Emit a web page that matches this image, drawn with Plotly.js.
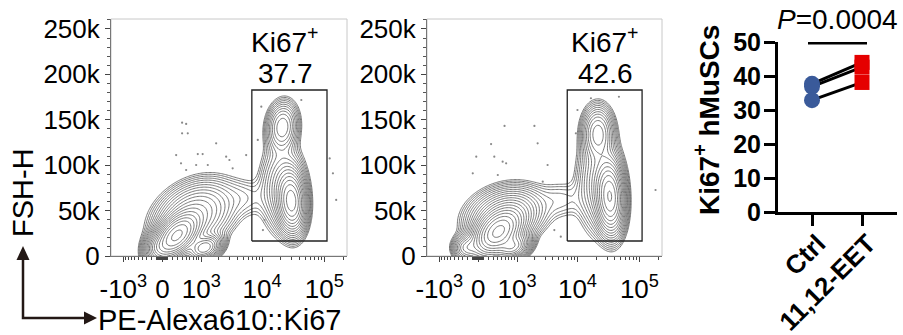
<!DOCTYPE html>
<html><head><meta charset="utf-8">
<script src="https://cdn.plot.ly/plotly-3.0.1.min.js"></script>
<style>html,body{margin:0;padding:0;background:#fff}#chart{width:903px;height:335px}</style>
</head><body><div id="chart"></div>
<script>
// ---------- axis tick definitions ----------
const BIEX_W = 500;                       // width of linear region of biexponential display
function biex(v) { return Math.asinh(v / BIEX_W); }
const xTickRaw  = [-1000, 0, 1000, 10000, 100000];
const xTickText = ['-10<sup>3</sup>', '0', '10<sup>3</sup>', '10<sup>4</sup>', '10<sup>5</sup>'];
const xMinorRaw = [-900,-800,-700,-600,-500,-400,-300,-200,-100,-90,-80,-70,-60,-50,-40,-30,-20,-10,
                   10,20,30,40,50,60,70,80,90,100,200,300,400,500,600,700,800,900,
                   2000,3000,4000,5000,6000,7000,8000,9000,20000,30000,40000,50000,60000,70000,80000,90000,200000];
const yTickVals = [0, 50, 100, 150, 200, 250];          // FSC-H, thousands
const yTickText = ['0', '50k', '100k', '150k', '200k', '250k'];

// ---------- flow density estimates (x: biex display units, y: FSC-H in k) ----------
// components: neg core, neg halo, neg low-right, neg low-left, bridge, pos low, pos upper, pos broad
const ctrlCx  = [0.52, 1.19, 1.56, -0.15, 3.04, 4.78, 4.44, 4.45];
const ctrlCy  = [22,   45,   9,    9,     64,   60,   142,  75];
const ctrlSx  = [0.42, 0.71, 0.30, 0.25,  0.50, 0.26, 0.29, 0.42];
const ctrlSy  = [12.6, 18,   7,    7,     12,   17,   14,   25];
const ctrlRho = [0.50, 0.30, 0.30, 0.0,   0.0,  -0.1, 0.1,  0.0];
const ctrlW   = [1.0,  0.15, 0.30, 0.10,  0.012,0.35, 0.10, 0.06];

const eetCx  = [0.74, 1.04, 1.30, -0.44, 3.10, 4.90, 4.45, 4.50];
const eetCy  = [26,   45,   10,   9,     62,   65,   135,  80];
const eetSx  = [0.45, 0.69, 0.30, 0.25,  0.50, 0.26, 0.29, 0.42];
const eetSy  = [13,   15,   7,    7,     12,   20,   15,   28];
const eetRho = [0.40, 0.20, 0.30, 0.0,   0.0,  -0.1, 0.0,  0.0];
const eetW   = [1.0,  0.15, 0.35, 0.10,  0.012,0.40, 0.12, 0.06];

// sparse outlier events
const ctrlDotX = [0.73,0.88,0.73,0.94,1.99,0.51,1.31,1.49,0.69,0.88,1.25,1.68,2.36,2.48,3.10,2.60,3.66,3.53,3.78,3.78,3.72,5.14,6.19,6.31,6.43];
const ctrlDotY = [146.8,145.4,135.1,135.1,124.1,111.2,112.3,112.3,102.1,94.7,100.2,100.2,109.4,105.7,111.2,96.6,164.4,127.8,138.8,39.6,28.6,171.8,107.5,91.1,61.7];
const eetDotX = [0.98,2.09,0.48,2.21,-0.07,0.60,0.91,1.04,2.58,-0.20,0.73,2.40,3.63,3.69,5.23,4.19,2.83,3.07,6.59];
const eetDotY = [143.2,143.2,123.3,124.1,109.4,109.4,103.9,102.1,100.2,91.1,89.2,81.8,135.1,160.8,175.4,173.7,28.6,21.3,72.7];

// Ki67+ gate (display units)
const gateX = [3.31, 6.09];
const gateY = [16.5, 182.8];
const ctrlPct = '37.7';
const eetPct = '42.6';

// ---------- paired summary ----------
const groups  = ['Ctrl', '11,12-EET'];
const ctrlVals = [37.7, 36.9, 32.9];
const eetVals  = [44.0, 42.6, 38.1];
const pText = '0.0004';
const yTicks3 = [0, 10, 20, 30, 40, 50];

// ---------- build ----------
const X_RANGE = [-1.9, 6.83];
const Y_RANGE = [0, 261];
const NX = 180, NY = 160;
const gx = [], gy = [];
for (let i = 0; i < NX; i++) gx.push(X_RANGE[0] + (X_RANGE[1] - X_RANGE[0]) * i / (NX - 1));
for (let j = 0; j < NY; j++) gy.push(Y_RANGE[0] + (Y_RANGE[1] - Y_RANGE[0]) * j / (NY - 1));
function grid(cx, cy, sx, sy, rho, w) {
  const z = [];
  for (let j = 0; j < NY; j++) {
    const row = [];
    for (let i = 0; i < NX; i++) {
      let d = 1e-9;
      for (let k = 0; k < cx.length; k++) {
        const dx = (gx[i] - cx[k]) / sx[k], dy = (gy[j] - cy[k]) / sy[k];
        const q = (dx * dx - 2 * rho[k] * dx * dy + dy * dy) / (1 - rho[k] * rho[k]);
        d += w[k] * Math.exp(-0.5 * q);
      }
      row.push(Math.log10(d));
    }
    z.push(row);
  }
  return z;
}
const FONT = 'Liberation Sans, Arial, Helvetica, sans-serif';
function contourTrace(z, xa, ya) {
  return {type: 'contour', x: gx, y: gy, z: z, xaxis: xa, yaxis: ya,
    contours: {coloring: 'none', start: -2.3, end: 0.1, size: 0.12, showlabels: false},
    line: {color: '#606060', width: 0.85, smoothing: 1}, showscale: false, hoverinfo: 'skip'};
}
function dotTrace(x, y, xa, ya) {
  return {type: 'scatter', mode: 'markers', x: x, y: y, xaxis: xa, yaxis: ya,
    marker: {size: 2.2, color: '#888'}, hoverinfo: 'skip'};
}
function gateTrace(xa, ya) {
  return {type: 'scatter', mode: 'lines', xaxis: xa, yaxis: ya,
    x: [gateX[0], gateX[1], gateX[1], gateX[0], gateX[0]],
    y: [gateY[0], gateY[0], gateY[1], gateY[1], gateY[0]],
    line: {color: '#222', width: 1.3}, hoverinfo: 'skip'};
}
const traces = [
  contourTrace(grid(ctrlCx, ctrlCy, ctrlSx, ctrlSy, ctrlRho, ctrlW), 'x', 'y'),
  dotTrace(ctrlDotX, ctrlDotY, 'x', 'y'),
  gateTrace('x', 'y'),
  contourTrace(grid(eetCx, eetCy, eetSx, eetSy, eetRho, eetW), 'x2', 'y2'),
  dotTrace(eetDotX, eetDotY, 'x2', 'y2'),
  gateTrace('x2', 'y2')
];
// paired lines
for (let i = 0; i < ctrlVals.length; i++) {
  traces.push({type: 'scatter', mode: 'lines', x: [0, 1], y: [ctrlVals[i], eetVals[i]],
    xaxis: 'x3', yaxis: 'y3', line: {color: '#000', width: 3}, hoverinfo: 'skip'});
}
traces.push({type: 'scatter', mode: 'markers', x: ctrlVals.map(() => 0), y: ctrlVals, xaxis: 'x3', yaxis: 'y3',
  marker: {symbol: 'circle', size: 16, color: '#3a5a9a'}, hoverinfo: 'skip'});
traces.push({type: 'scatter', mode: 'markers', x: eetVals.map(() => 1), y: eetVals, xaxis: 'x3', yaxis: 'y3',
  marker: {symbol: 'square', size: 15, color: '#e50000'}, hoverinfo: 'skip'});
// significance bar
traces.push({type: 'scatter', mode: 'lines', x: [-0.08, 1.10], y: [49.7, 49.7], xaxis: 'x3', yaxis: 'y3',
  line: {color: '#000', width: 3}, cliponaxis: false, hoverinfo: 'skip'});

function flowX(domain) {
  return {domain: domain, range: X_RANGE, tickmode: 'array', tickvals: xTickRaw.map(biex), ticktext: xTickText,
    showline: true, linecolor: '#777', linewidth: 1, ticks: 'outside', ticklen: 5, tickcolor: '#444', tickwidth: 1,
    ticklabelstandoff: 5,
    tickfont: {family: FONT, size: 26, color: '#000'}, zeroline: false, showgrid: false,
    minor: {tickmode: 'array', tickvals: xMinorRaw.map(biex), ticks: 'outside', ticklen: 3, tickcolor: '#444', tickwidth: 1, showgrid: false}};
}
function flowY(domain, anchor) {
  return {domain: domain, range: Y_RANGE, anchor: anchor, tickmode: 'array', tickvals: yTickVals, ticktext: yTickText,
    showline: true, linecolor: '#777', linewidth: 1, ticks: 'outside', ticklen: 5, tickcolor: '#444', tickwidth: 1,
    tickfont: {family: FONT, size: 26, color: '#000'}, zeroline: false, showgrid: false,
    minor: {dtick: 10, ticks: 'outside', ticklen: 3, tickcolor: '#555', tickwidth: 1, showgrid: false}};
}
const W = 903, H = 335;
const PX = p => p / W, PY = p => 1 - p / H;
const yDom = [PY(256), PY(19)];
const layout = {
  width: W, height: H, margin: {l: 0, r: 0, t: 0, b: 0}, paper_bgcolor: '#fff', plot_bgcolor: '#fff',
  showlegend: false, font: {family: FONT, color: '#000'},
  xaxis: Object.assign(flowX([PX(111), PX(347)]), {anchor: 'y'}),
  yaxis: flowY(yDom, 'x'),
  xaxis2: Object.assign(flowX([PX(427), PX(662)]), {anchor: 'y2'}),
  yaxis2: flowY(yDom, 'x2'),
  xaxis3: {domain: [PX(778), PX(897)], anchor: 'y3', range: [-0.68, 1.70], tickmode: 'array', tickvals: [0, 1], ticktext: groups,
    tickangle: -45, showline: true, linecolor: '#000', linewidth: 3, ticks: 'outside', ticklen: 11, tickwidth: 3, tickcolor: '#000',
    ticklabelstandoff: -8, ticklabelshift: 6,
    tickfont: {family: FONT, size: 26, color: '#000', weight: 'bold'}, zeroline: false, showgrid: false},
  yaxis3: {domain: [PY(212), PY(42)], anchor: 'x3', range: [0, 50], tickmode: 'array', tickvals: yTicks3,
    showline: true, linecolor: '#000', linewidth: 3, ticks: 'outside', ticklen: 11, tickwidth: 3, tickcolor: '#000',
    ticklabelstandoff: -2,
    tickfont: {family: FONT, size: 25, color: '#000', weight: 'bold'}, zeroline: false, showgrid: false},
  shapes: [
    {type: 'rect', xref: 'x domain', yref: 'y domain', x0: 0, x1: 1, y0: 0, y1: 1, line: {color: '#c8c8c8', width: 1}, layer: 'below'},
    {type: 'rect', xref: 'x2 domain', yref: 'y2 domain', x0: 0, x1: 1, y0: 0, y1: 1, line: {color: '#c8c8c8', width: 1}, layer: 'below'},
    {type: 'path', xref: 'paper', yref: 'paper', line: {color: '#231815', width: 2.5},
      path: `M ${PX(23)},${PY(258)} L ${PX(23)},${PY(318)} L ${PX(86)},${PY(318)}`},
    {type: 'path', xref: 'paper', yref: 'paper', line: {color: '#231815', width: 0}, fillcolor: '#231815',
      path: `M ${PX(23)},${PY(246)} L ${PX(16.5)},${PY(260)} L ${PX(29.5)},${PY(260)} Z`},
    {type: 'path', xref: 'paper', yref: 'paper', line: {color: '#231815', width: 0}, fillcolor: '#231815',
      path: `M ${PX(97)},${PY(318)} L ${PX(84)},${PY(311.5)} L ${PX(84)},${PY(324.5)} Z`}
  ],
  annotations: [
    {xref: 'paper', yref: 'paper', x: PX(23), y: PY(193), text: 'FSH-H', textangle: -90, showarrow: false,
      xanchor: 'center', yanchor: 'middle', font: {size: 29}},
    {xref: 'paper', yref: 'paper', x: PX(96), y: PY(320), text: 'PE-Alexa610::Ki67', showarrow: false,
      xanchor: 'left', yanchor: 'middle', font: {size: 29}},
    {xref: 'paper', yref: 'paper', x: PX(285), y: PY(40), text: 'Ki67<sup>+</sup>', showarrow: false, xanchor: 'center', yanchor: 'middle', font: {size: 28}},
    {xref: 'paper', yref: 'paper', x: PX(285), y: PY(73), text: ctrlPct, showarrow: false, xanchor: 'center', yanchor: 'middle', font: {size: 28}},
    {xref: 'paper', yref: 'paper', x: PX(605), y: PY(40), text: 'Ki67<sup>+</sup>', showarrow: false, xanchor: 'center', yanchor: 'middle', font: {size: 28}},
    {xref: 'paper', yref: 'paper', x: PX(605), y: PY(73), text: eetPct, showarrow: false, xanchor: 'center', yanchor: 'middle', font: {size: 28}},
    {xref: 'paper', yref: 'paper', x: PX(707), y: PY(120), text: 'Ki67<sup>+</sup> hMuSCs', textangle: -90, showarrow: false,
      xanchor: 'center', yanchor: 'middle', font: {size: 28, weight: 'bold'}},
    {xref: 'x3', yref: 'paper', x: 0.5, y: PY(19), text: '<i>P</i>=' + pText, showarrow: false,
      xanchor: 'center', yanchor: 'middle', font: {size: 28}}
  ]
};
Plotly.newPlot('chart', traces, layout, {staticPlot: true, displayModeBar: false});
</script></body></html>
